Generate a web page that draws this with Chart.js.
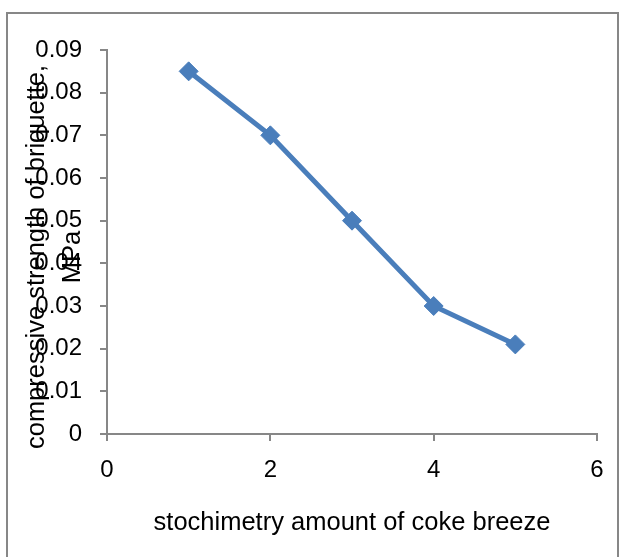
<!DOCTYPE html>
<html>
<head>
<meta charset="utf-8">
<title>compressive strength vs coke breeze</title>
<script src="https://cdn.jsdelivr.net/npm/chart.js@4.4.1/dist/chart.umd.min.js"></script>
<style>
    html, body { margin: 0; padding: 0; background: #fff; }
    #grafica { display: block; }
</style>
</head>
<body>
<canvas id="grafica" width="621" height="557"></canvas>
<script>
// datos de la grafica
const cantidadCoque = [1, 2, 3, 4, 5];
const resistencia = [0.085, 0.07, 0.05, 0.03, 0.021];
const rangoX = [0, 6];
const pasoX = 2;
const rangoY = [0, 0.09];
const pasoY = 0.01;
const tituloX = 'stochimetry amount of coke breeze';
const tituloY = ['compressive strength of briquette,', 'MPa'];

const gris = '#878787';
const azul = '#4a7ebb';
const fuente = '"Liberation Sans", Arial, sans-serif';

// marco alrededor de toda la grafica
const marco = {
    id: 'marco',
    beforeDraw: (chart) => {
        const ctx = chart.ctx;
        ctx.save();
        ctx.strokeStyle = gris;
        ctx.lineWidth = 2;
        ctx.strokeRect(7, 13, 611, 560);
        ctx.restore();
    }
};

// titulo del eje Y, rotado y encima de las etiquetas como en Excel
const tituloEjeY = {
    id: 'tituloEjeY',
    afterDraw: (chart) => {
        const ctx = chart.ctx;
        ctx.save();
        ctx.translate(0, 257);
        ctx.rotate(-Math.PI / 2);
        ctx.fillStyle = '#000';
        ctx.font = '25.5px ' + fuente;
        ctx.textAlign = 'center';
        ctx.textBaseline = 'alphabetic';
        ctx.fillText(tituloY[0], 0, 44);
        ctx.fillText(tituloY[1], 0, 80);
        ctx.restore();
    }
};

const ctx = document.getElementById('grafica').getContext('2d');
new Chart(ctx, {
    type: 'scatter',
    data: {
        datasets: [{
            data: cantidadCoque.map((x, i) => ({ x: x, y: resistencia[i] })),
            showLine: true,
            borderColor: azul,
            backgroundColor: azul,
            borderWidth: 5,
            pointStyle: 'rectRot',
            pointRadius: 9.5,
            pointBorderWidth: 1,
            pointBorderColor: azul,
            pointBackgroundColor: azul,
            tension: 0
        }]
    },
    options: {
        responsive: false,
        animation: false,
        devicePixelRatio: 1,
        layout: {
            padding: { left: 0, top: 50, right: 24, bottom: 0 }
        },
        plugins: {
            legend: { display: false },
            tooltip: { enabled: false }
        },
        scales: {
            x: {
                type: 'linear',
                min: rangoX[0],
                max: rangoX[1],
                afterFit: (escala) => { escala.height = 123; },
                ticks: {
                    stepSize: pasoX,
                    padding: 15,
                    color: '#000',
                    font: { family: fuente, size: 24 }
                },
                grid: {
                    drawOnChartArea: false,
                    drawTicks: true,
                    tickLength: 7,
                    color: gris,
                    lineWidth: 2
                },
                border: { display: true, color: gris, width: 2 },
                title: {
                    display: true,
                    text: tituloX,
                    color: '#000',
                    padding: { top: 0, bottom: 19 },
                    font: { family: fuente, size: 25.5 }
                }
            },
            y: {
                type: 'linear',
                min: rangoY[0],
                max: rangoY[1],
                afterFit: (escala) => { escala.width = 107; },
                ticks: {
                    stepSize: pasoY,
                    padding: 18,
                    color: '#000',
                    font: { family: fuente, size: 24 }
                },
                grid: {
                    drawOnChartArea: false,
                    drawTicks: true,
                    tickLength: 7,
                    color: gris,
                    lineWidth: 2
                },
                border: { display: true, color: gris, width: 2 }
            }
        }
    },
    plugins: [marco, tituloEjeY]
});
</script>
</body>
</html>
